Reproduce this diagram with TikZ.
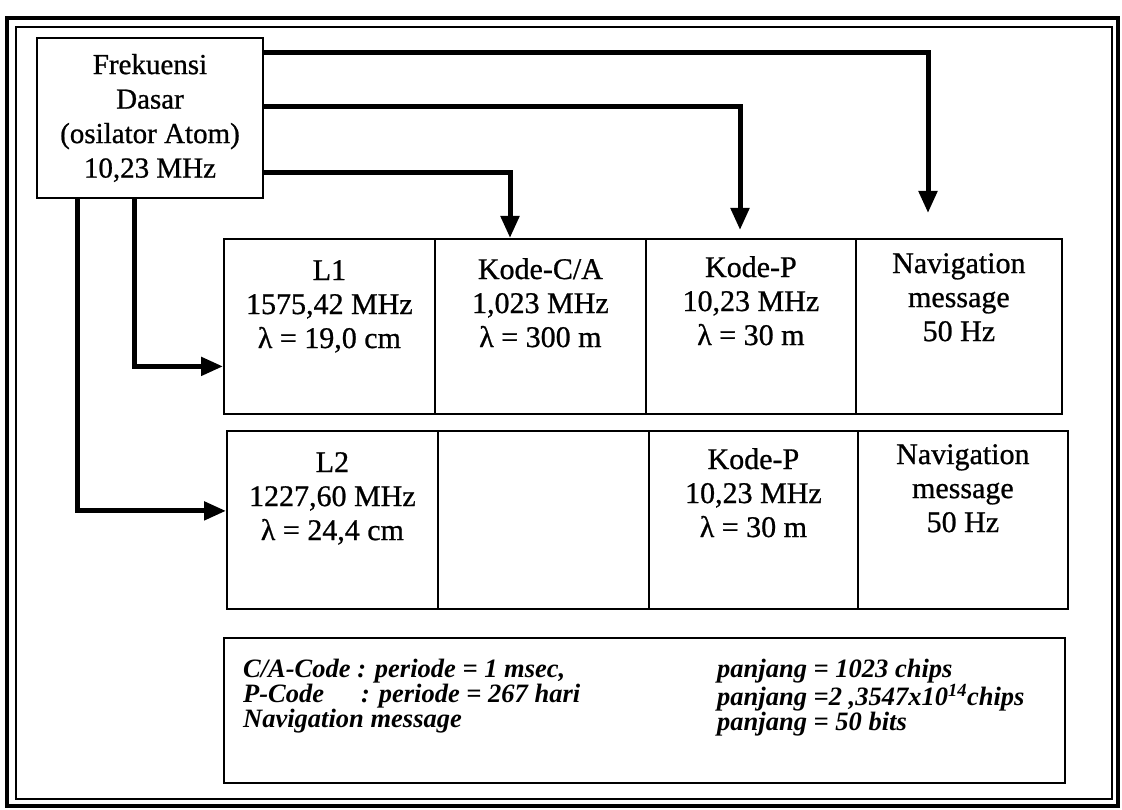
\documentclass[tikz,border=0pt]{standalone}
\usepackage{fontspec}
\setmainfont{Liberation Serif}
\newfontfamily\scanserif[FakeBold=0.8]{Liberation Serif}
\usetikzlibrary{arrows.meta,calc}
\newcommand{\srcfont}{\scanserif\fontsize{29}{34.5}\selectfont}
\newcommand{\cellfont}{\scanserif\fontsize{30}{34}\selectfont}
\newcommand{\notefont}{\fontsize{26.5}{25}\selectfont\bfseries\itshape}
\tikzset{
  box/.style={draw, line width=1.8pt, inner sep=0pt},
  cellbox/.style={box, anchor=north west},
  celltxt/.style={align=center, inner sep=0pt, anchor=north, font=\cellfont},
  notetxt/.style={align=left, inner sep=0pt, anchor=north west, font=\notefont},
  arr/.style={line width=5pt, -{Triangle[length=22pt,width=18pt]}},
}
\begin{document}
\begin{tikzpicture}[x=1pt,y=-1pt]
\useasboundingbox (0,0) rectangle (1122,810);
% frame
\draw[line width=3.5pt] (7,18) rectangle (1118,806);
\draw[line width=1.5pt] (16,27) rectangle (1112,799);
% source
\node[box, minimum width=226pt, minimum height=160pt, align=center, font=\srcfont] (src) at (150,118)
  {Frekuensi\\Dasar\\(osilator Atom)\\10,23 MHz};
% row 1
\node[cellbox, minimum width=211pt, minimum height=175pt] (c11) at (223,238) {};
\node[cellbox, minimum width=211pt, minimum height=175pt] (c12) at (434,238) {};
\node[cellbox, minimum width=210pt, minimum height=175pt] (c13) at (645,238) {};
\node[cellbox, minimum width=206pt, minimum height=175pt] (c14) at (855,238) {};
\node[celltxt] (t11) at ($(c11.north)+(0,22)$) {L1\\1575,42 MHz\\λ = 19,0 cm};
\node[celltxt] (t12) at ($(c12.north)+(0,20)$) {Kode-C/A\\1,023 MHz\\λ = 300 m};
\node[celltxt] (t13) at ($(c13.north)+(0,18)$) {Kode-P\\10,23 MHz\\λ = 30 m};
\node[celltxt] (t14) at ($(c14.north)+(0,15)$) {Navigation\\message\\50 Hz};
% row 2
\node[cellbox, minimum width=211pt, minimum height=178pt] (c21) at (226,430) {};
\node[cellbox, minimum width=211pt, minimum height=178pt] (c22) at (437,430) {};
\node[cellbox, minimum width=209pt, minimum height=178pt] (c23) at (648,430) {};
\node[cellbox, minimum width=210pt, minimum height=178pt] (c24) at (857,430) {};
\node[celltxt] (t21) at ($(c21.north)+(0,22)$) {L2\\1227,60 MHz\\λ = 24,4 cm};
\node[celltxt] (t23) at ($(c23.north)+(0,18)$) {Kode-P\\10,23 MHz\\λ = 30 m};
\node[celltxt] (t24) at ($(c24.north)+(0,14)$) {Navigation\\message\\50 Hz};
% note box
\node[box, line width=2.2pt, anchor=north west, minimum width=841pt, minimum height=145pt] (note) at (223,637) {};
\node[notetxt] (noteL) at (243,659)
  {C/A-Code : periode = 1 msec,\\
   \makebox[118pt][l]{P-Code}: periode = 267 hari\\
   Navigation message};
\node[notetxt] (noteR) at (717,659)
  {panjang = 1023 chips\\
   panjang =2 ,3547x10\textsuperscript{14}chips\\
   panjang = 50 bits};
% arrow tips
\coordinate (tipNav) at (928,213);
\coordinate (tipP) at (740,230);
\coordinate (tipCA) at (510,238);
% connectors
\draw[arr] ($(src.north east)+(0,15)$) -| (tipNav);
\draw[arr] ($(src.north east)+(0,69)$) -| (tipP);
\draw[arr] ($(src.north east)+(0,135)$) -| (tipCA);
\draw[arr] ($(src.south west)+(98,0)$) |- ($(c11.west)+(0,40)$);
\draw[arr] ($(src.south west)+(41,0)$) |- ($(c21.west)+(0,-9)$);
\end{tikzpicture}
\end{document}
